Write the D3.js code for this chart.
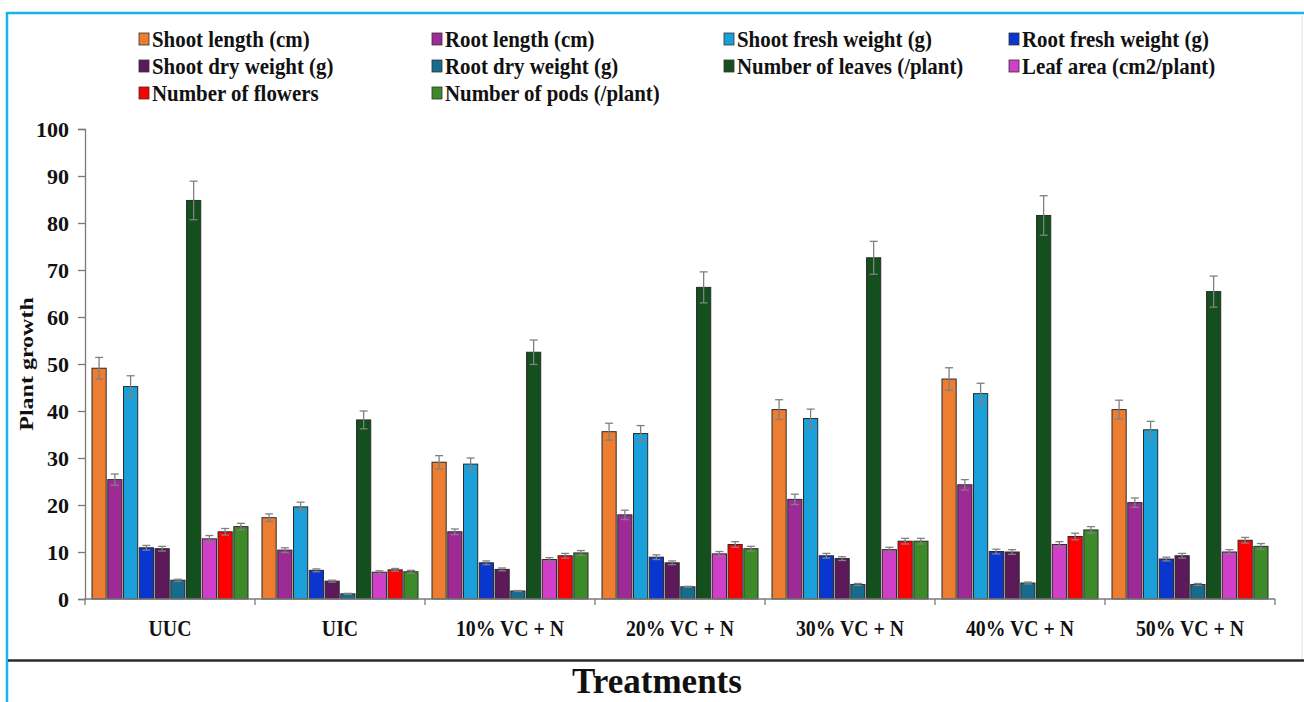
<!DOCTYPE html>
<html>
<head>
<meta charset="utf-8">
<script src="https://cdn.jsdelivr.net/npm/d3@7"></script>
<style>
  body { margin: 0; background: #fff; }
  svg text { font-family: "Liberation Serif", Tinos, "Times New Roman", Times, "DejaVu Serif", serif !important; font-weight: bold; }
</style>
</head>
<body>
<div id="graf"></div>
<script>
const treatments = ['UUC', 'UIC', '10% VC + N', '20% VC + N', '30% VC + N', '40% VC + N', '50% VC + N']
const seriesNames = ['Shoot length (cm)', 'Root length (cm)', 'Shoot fresh weight (g)', 'Root fresh weight (g)',
  'Shoot dry weight (g)', 'Root dry weight (g)', 'Number of leaves (/plant)', 'Leaf area (cm2/plant)',
  'Number of flowers', 'Number of pods (/plant)']
const colores = ['#ED7D31', '#9E2A96', '#19A0DB', '#0A36D0', '#5C1A5A', '#176C8E', '#14501E', '#D13FC9', '#FF0000', '#3D8A28']

// one row per treatment, one value per series
const valores = [
  [49.1, 25.4, 45.2, 10.9, 10.7, 4.0, 84.8, 12.8, 14.3, 15.4],
  [17.3, 10.4, 19.6, 6.1, 3.8, 1.1, 38.1, 5.7, 6.2, 5.8],
  [29.1, 14.3, 28.7, 7.7, 6.3, 1.7, 52.5, 8.4, 9.2, 9.8],
  [35.6, 17.9, 35.2, 8.9, 7.7, 2.6, 66.3, 9.6, 11.6, 10.7],
  [40.3, 21.2, 38.4, 9.2, 8.6, 3.1, 72.6, 10.5, 12.3, 12.3],
  [46.8, 24.3, 43.7, 10.1, 10.0, 3.4, 81.6, 11.6, 13.3, 14.7],
  [40.3, 20.5, 36.0, 8.5, 9.2, 3.1, 65.4, 10.0, 12.5, 11.2]
]
const errores = [
  [2.3, 1.2, 2.3, 0.5, 0.5, 0.2, 4.1, 0.7, 0.7, 0.7],
  [0.8, 0.5, 1.0, 0.3, 0.2, 0.1, 1.9, 0.3, 0.3, 0.3],
  [1.4, 0.6, 1.3, 0.4, 0.3, 0.1, 2.6, 0.4, 0.5, 0.5],
  [1.8, 1.0, 1.7, 0.5, 0.4, 0.1, 3.3, 0.5, 0.6, 0.5],
  [2.1, 1.1, 2.0, 0.5, 0.4, 0.2, 3.5, 0.5, 0.6, 0.6],
  [2.4, 1.1, 2.2, 0.5, 0.5, 0.2, 4.2, 0.6, 0.7, 0.7],
  [2.0, 1.0, 1.8, 0.4, 0.5, 0.2, 3.3, 0.5, 0.6, 0.6]
]
const yTicks = [0, 10, 20, 30, 40, 50, 60, 70, 80, 90, 100]

const anchoTotal = 1304
const altoTotal = 702
const fuente = '"Liberation Serif", Tinos, "Times New Roman", Times, "DejaVu Serif", serif'

const svg = d3.select('#graf')
  .append('svg')
  .attr('width', anchoTotal)
  .attr('height', altoTotal)
  .attr('font-family', fuente)

// frame
svg.append('line').attr('x1', 7).attr('x2', 1304).attr('y1', 13).attr('y2', 13)
  .attr('stroke', '#1AB2EC').attr('stroke-width', 2.5)
svg.append('line').attr('x1', 7).attr('x2', 7).attr('y1', 12).attr('y2', 702)
  .attr('stroke', '#1AB2EC').attr('stroke-width', 2.5)
svg.append('line').attr('x1', 1302).attr('x2', 1302).attr('y1', 14).attr('y2', 659)
  .attr('stroke', '#e4e4e4').attr('stroke-width', 1)
svg.append('line').attr('x1', 8).attr('x2', 1304).attr('y1', 660.5).attr('y2', 660.5)
  .attr('stroke', '#2a2a2a').attr('stroke-width', 2.5)

const margin = { top: 129, left: 85 }
const ancho = 1190
const alto = 470

const g = svg.append('g')
  .attr('transform', `translate(${margin.left}, ${margin.top})`)

const y = d3.scaleLinear().domain([0, 100]).range([alto, 0])
const x0 = d3.scaleBand().domain(treatments).range([0, ancho]).paddingInner(0).paddingOuter(0)
const x1 = d3.scaleBand().domain(seriesNames).range([7, x0.bandwidth() - 7]).paddingInner(0.1)
const color = d3.scaleOrdinal().domain(seriesNames).range(colores)

// bars
const grupos = g.selectAll('g.grupo')
  .data(treatments)
  .join('g')
  .attr('class', 'grupo')
  .attr('transform', d => `translate(${x0(d)}, 0)`)

grupos.selectAll('rect')
  .data((t, i) => seriesNames.map((s, j) => ({ s, v: valores[i][j], e: errores[i][j] })))
  .join('rect')
  .attr('x', d => x1(d.s))
  .attr('y', d => y(d.v))
  .attr('width', x1.bandwidth())
  .attr('height', d => alto - y(d.v))
  .attr('fill', d => color(d.s))
  .attr('stroke', '#2b2b2b')
  .attr('stroke-width', 1)

// error bars
const err = grupos.selectAll('g.err')
  .data((t, i) => seriesNames.map((s, j) => ({ s, v: valores[i][j], e: errores[i][j] })))
  .join('g')
  .attr('class', 'err')
  .attr('stroke', '#808080')
  .attr('stroke-width', 1.3)
err.append('line')
  .attr('x1', d => x1(d.s) + x1.bandwidth() / 2)
  .attr('x2', d => x1(d.s) + x1.bandwidth() / 2)
  .attr('y1', d => y(d.v - d.e))
  .attr('y2', d => y(d.v + d.e))
err.append('line')
  .attr('x1', d => x1(d.s) + x1.bandwidth() / 2 - 4)
  .attr('x2', d => x1(d.s) + x1.bandwidth() / 2 + 4)
  .attr('y1', d => y(d.v + d.e))
  .attr('y2', d => y(d.v + d.e))
err.append('line')
  .attr('x1', d => x1(d.s) + x1.bandwidth() / 2 - 4)
  .attr('x2', d => x1(d.s) + x1.bandwidth() / 2 + 4)
  .attr('y1', d => y(d.v - d.e))
  .attr('y2', d => y(d.v - d.e))

// y axis
const yAxis = g.append('g')
  .call(d3.axisLeft(y).tickValues(yTicks).tickSize(7).tickPadding(9))
  .attr('font-family', fuente)
yAxis.select('.domain').attr('stroke', '#7a7a7a').attr('stroke-width', 1.3)
yAxis.selectAll('.tick line').attr('stroke', '#7a7a7a').attr('stroke-width', 1.3)
yAxis.selectAll('text')
  .attr('font-family', fuente)
  .attr('font-weight', 'bold')
  .attr('font-size', 22)
  .attr('dy', '0.34em')
  .attr('fill', '#111')

// x axis
const xAxis = g.append('g')
  .attr('transform', `translate(0, ${alto})`)
xAxis.append('line').attr('x1', 0).attr('x2', ancho).attr('y1', 0).attr('y2', 0)
  .attr('stroke', '#7a7a7a').attr('stroke-width', 1.3)
xAxis.selectAll('line.tk')
  .data(treatments.concat(['fin']))
  .join('line')
  .attr('class', 'tk')
  .attr('x1', (d, i) => i * x0.bandwidth())
  .attr('x2', (d, i) => i * x0.bandwidth())
  .attr('y1', 0).attr('y2', 6)
  .attr('stroke', '#7a7a7a').attr('stroke-width', 1.3)
xAxis.selectAll('text.lbl')
  .data(treatments)
  .join('text')
  .attr('class', 'lbl')
  .attr('transform', d => `translate(${x0(d) + x0.bandwidth() / 2}, 37) scale(0.86, 1)`)
  .attr('text-anchor', 'middle')
  .attr('font-size', 23)
  .attr('fill', '#111')
  .text(d => d)

// axis titles
svg.append('text')
  .attr('transform', 'translate(33, 364) scale(0.8, 1) rotate(-90)')
  .attr('text-anchor', 'middle')
  .attr('font-size', 24)
  .attr('fill', '#111')
  .text('Plant growth')

svg.append('text')
  .attr('x', 657)
  .attr('y', 693)
  .attr('text-anchor', 'middle')
  .attr('font-size', 35)
  .attr('fill', '#111')
  .text('Treatments')

// legend
const legX = [139, 432, 724, 1009]
const legY = [39, 66, 93]
const leyenda = svg.append('g')
  .selectAll('g')
  .data(seriesNames)
  .join('g')
  .attr('transform', (d, i) => `translate(${legX[i % 4]}, ${legY[Math.floor(i / 4)]})`)
leyenda.append('rect')
  .attr('x', 0).attr('y', -6)
  .attr('width', 10).attr('height', 12)
  .attr('fill', d => color(d))
  .attr('stroke', '#333').attr('stroke-width', 0.8)
leyenda.append('text')
  .attr('transform', 'translate(13, 8) scale(0.87, 1)')
  .attr('font-size', 24)
  .attr('fill', '#111')
  .text(d => d)
</script>
</body>
</html>
